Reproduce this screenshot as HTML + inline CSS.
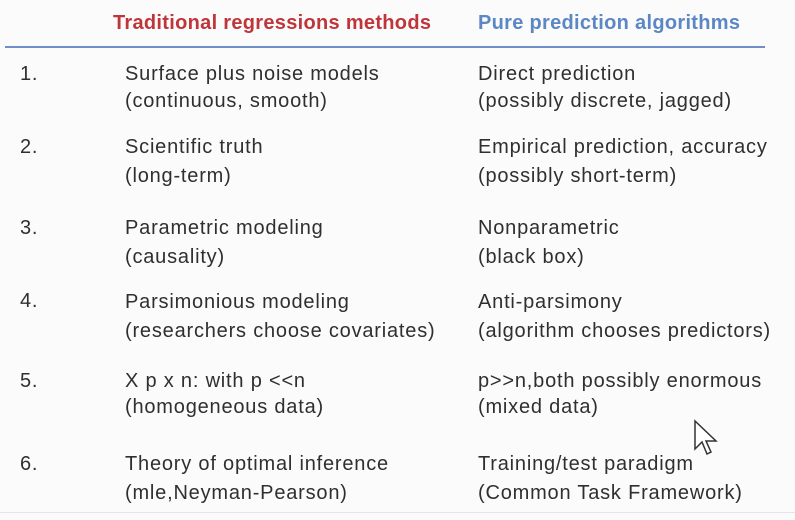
<!DOCTYPE html>
<html><head><meta charset="utf-8"><style>
body{margin:0;width:795px;height:520px;background:#fbfbfb;overflow:hidden;position:relative;font-family:"Liberation Sans",sans-serif;}
.t{position:absolute;font-size:20px;letter-spacing:0.8px;color:#2f2f2f;white-space:nowrap;line-height:24px;}
.h{position:absolute;font-size:20px;letter-spacing:0.3px;font-weight:bold;white-space:nowrap;top:12px;}
</style></head><body>
<div class="h" style="left:113px;color:#c0353a;">Traditional regressions methods</div>
<div class="h" style="left:478px;color:#5b87c4;">Pure prediction algorithms</div>
<div style="position:absolute;left:5px;top:46px;width:760px;height:2px;background:#6f8fc8;"></div>
<div style="position:absolute;left:0;top:512px;width:795px;height:1px;background:#e4e4e4;"></div>

<div>
<div class="t" style="left:20px;top:62px;">1.</div>
<div class="t" style="left:125px;top:62px;">Surface plus noise models</div>
<div class="t" style="left:125px;top:89px;">(continuous, smooth)</div>
<div class="t" style="left:478px;top:62px;">Direct prediction</div>
<div class="t" style="left:478px;top:89px;">(possibly discrete, jagged)</div>
</div>
<div>
<div class="t" style="left:20px;top:135px;">2.</div>
<div class="t" style="left:125px;top:135px;">Scientific truth</div>
<div class="t" style="left:125px;top:164px;">(long-term)</div>
<div class="t" style="left:478px;top:135px;">Empirical prediction, accuracy</div>
<div class="t" style="left:478px;top:164px;">(possibly short-term)</div>
</div>
<div>
<div class="t" style="left:20px;top:216px;">3.</div>
<div class="t" style="left:125px;top:216px;">Parametric modeling</div>
<div class="t" style="left:125px;top:245px;">(causality)</div>
<div class="t" style="left:478px;top:216px;">Nonparametric</div>
<div class="t" style="left:478px;top:245px;">(black box)</div>
</div>
<div>
<div class="t" style="left:20px;top:289px;">4.</div>
<div class="t" style="left:125px;top:290px;">Parsimonious modeling</div>
<div class="t" style="left:125px;top:319px;">(researchers choose covariates)</div>
<div class="t" style="left:478px;top:290px;">Anti-parsimony</div>
<div class="t" style="left:478px;top:319px;">(algorithm chooses predictors)</div>
</div>
<div>
<div class="t" style="left:20px;top:369px;">5.</div>
<div class="t" style="left:125px;top:369px;">X p x n: with p &lt;&lt;n</div>
<div class="t" style="left:125px;top:395px;">(homogeneous data)</div>
<div class="t" style="left:478px;top:369px;">p&gt;&gt;n,both possibly enormous</div>
<div class="t" style="left:478px;top:395px;">(mixed data)</div>
</div>
<div>
<div class="t" style="left:20px;top:452px;">6.</div>
<div class="t" style="left:125px;top:452px;">Theory of optimal inference</div>
<div class="t" style="left:125px;top:481px;">(mle,Neyman-Pearson)</div>
<div class="t" style="left:478px;top:452px;">Training/test paradigm</div>
<div class="t" style="left:478px;top:481px;">(Common Task Framework)</div>
</div>

<svg style="position:absolute;left:693px;top:419px;" width="30" height="40" viewBox="0 0 30 40">
<path d="M2 2 L2 30 L9 23 L14 35 L18 33 L13 22 L23 22 Z" fill="#fff" stroke="#333" stroke-width="1.5"/>
</svg>
</body></html>
